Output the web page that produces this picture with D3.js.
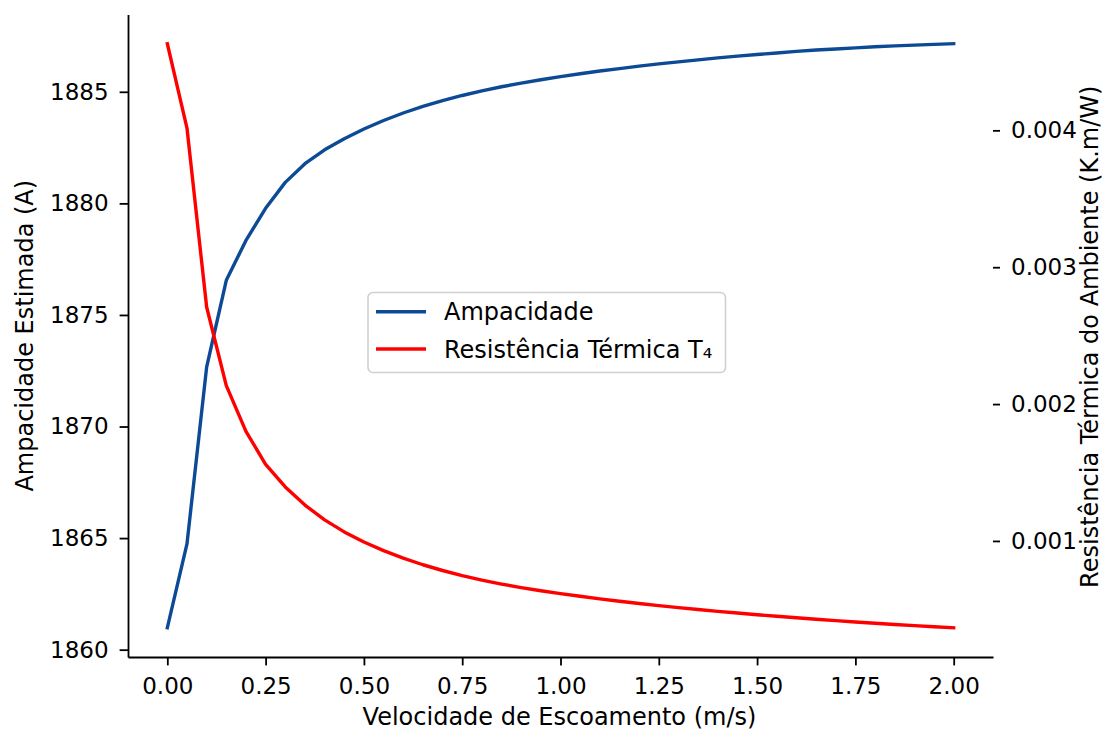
<!DOCTYPE html>
<html>
<head>
<meta charset="utf-8">
<script src="https://cdn.jsdelivr.net/npm/d3@7"></script>
<style>
  html, body { margin: 0; padding: 0; background: #fff; }
  svg { display: block; font-family: "DejaVu Sans", sans-serif; }
</style>
</head>
<body>
<svg id="chart" width="1104" height="731"></svg>
<script>
// ---- data ----
const velocidade = [0.00, 0.05, 0.10, 0.15, 0.20, 0.25, 0.30, 0.35, 0.40, 0.45,
  0.50, 0.55, 0.60, 0.65, 0.70, 0.75, 0.80, 0.85, 0.90, 0.95,
  1.00, 1.05, 1.10, 1.15, 1.20, 1.25, 1.30, 1.35, 1.40, 1.45,
  1.50, 1.55, 1.60, 1.65, 1.70, 1.75, 1.80, 1.85, 1.90, 1.95, 2.00];

const ampacidade = [1860.98, 1864.74, 1872.66, 1876.55, 1878.34, 1879.78, 1880.94, 1881.78, 1882.40, 1882.90,
  1883.335, 1883.715, 1884.05, 1884.345, 1884.605, 1884.835, 1885.04, 1885.225, 1885.39, 1885.54,
  1885.68, 1885.81, 1885.93, 1886.04, 1886.15, 1886.25, 1886.34, 1886.43, 1886.52, 1886.60,
  1886.67, 1886.74, 1886.81, 1886.87, 1886.92, 1886.97, 1887.02, 1887.06, 1887.09, 1887.125, 1887.155];

const resistencia = [0.004633, 0.004017, 0.002709, 0.002135, 0.001800, 0.001560, 0.001395, 0.001262, 0.001154, 0.001066,
  0.000992, 0.000929, 0.000874, 0.000826, 0.000784, 0.000747, 0.000714, 0.000685, 0.000659, 0.000636,
  0.000615, 0.0005955, 0.000577, 0.0005595, 0.000543, 0.0005275, 0.0005128, 0.0004989, 0.0004857, 0.0004731,
  0.000461, 0.0004494, 0.0004383, 0.0004277, 0.0004176, 0.0004079, 0.0003986, 0.0003897, 0.0003812, 0.0003731, 0.0003654];

const xTicks = [0.00, 0.25, 0.50, 0.75, 1.00, 1.25, 1.50, 1.75, 2.00];
const yLeftTicks = [1860, 1865, 1870, 1875, 1880, 1885];
const yRightTicks = [0.001, 0.002, 0.003, 0.004];

const seriesNames = ["Ampacidade", "Resistência Térmica T₄"];
const seriesColors = ["#0c4a95", "#ff0000"];

const xLabel = "Velocidade de Escoamento (m/s)";
const yLeftLabel = "Ampacidade Estimada (A)";
const yRightLabel = "Resistência Térmica do Ambiente (K.m/W)";

// ---- layout ----
const plot = { left: 128, right: 993, top: 14.5, bottom: 657 };
const FS = 23;     // tick labels
const LFS = 24;    // axis labels & legend
const svg = d3.select("#chart");

function padded(ext) {
  const m = (ext[1] - ext[0]) * 0.05;
  return [ext[0] - m, ext[1] + m];
}

const x = d3.scaleLinear().domain(padded(d3.extent(velocidade))).range([plot.left, plot.right]);
const yL = d3.scaleLinear().domain(padded(d3.extent(ampacidade))).range([plot.bottom, plot.top]);
const yR = d3.scaleLinear().domain(padded(d3.extent(resistencia))).range([plot.bottom, plot.top]);

// lines
const ptsA = velocidade.map((v, i) => [v, ampacidade[i]]);
const ptsR = velocidade.map((v, i) => [v, resistencia[i]]);

svg.append("path")
  .attr("d", d3.line().x(d => x(d[0])).y(d => yL(d[1]))(ptsA))
  .attr("fill", "none").attr("stroke", seriesColors[0]).attr("stroke-width", 3.4)
  .attr("stroke-linejoin", "round").attr("stroke-linecap", "square");

svg.append("path")
  .attr("d", d3.line().x(d => x(d[0])).y(d => yR(d[1]))(ptsR))
  .attr("fill", "none").attr("stroke", seriesColors[1]).attr("stroke-width", 3.4)
  .attr("stroke-linejoin", "round").attr("stroke-linecap", "square");

// axes
function styleAxis(g) {
  g.selectAll("text").attr("font-size", FS).attr("fill", "#000").attr("font-family", "DejaVu Sans, sans-serif");
  g.selectAll("line").attr("stroke", "#000").attr("stroke-width", 1.8);
  g.selectAll("path.domain").attr("stroke", "#000").attr("stroke-width", 1.8);
}

const gx = svg.append("g").attr("transform", `translate(0,${plot.bottom})`)
  .call(d3.axisBottom(x).tickValues(xTicks).tickFormat(d3.format(".2f")).tickSize(8.4).tickPadding(12.5).tickSizeOuter(0));
styleAxis(gx);

const gyl = svg.append("g").attr("transform", `translate(${plot.left},0)`)
  .call(d3.axisLeft(yL).tickValues(yLeftTicks).tickFormat(d3.format("d")).tickSize(8.4).tickPadding(11).tickSizeOuter(0));
styleAxis(gyl);

const gyr = svg.append("g").attr("transform", `translate(${plot.right},0)`)
  .call(d3.axisRight(yR).tickValues(yRightTicks).tickFormat(d3.format(".3f")).tickSize(7).tickPadding(11).tickSizeOuter(0));
styleAxis(gyr);
gyr.select("path.domain").remove();

// axis labels
svg.append("text").attr("x", (plot.left + plot.right) / 2 - 1).attr("y", 724.5)
  .attr("text-anchor", "middle").attr("font-size", LFS).attr("fill", "#000").text(xLabel);

svg.append("text").attr("transform", `translate(33,${(plot.top + plot.bottom) / 2}) rotate(-90)`)
  .attr("text-anchor", "middle").attr("font-size", LFS).attr("fill", "#000").text(yLeftLabel);

svg.append("text").attr("transform", `translate(1098,${(plot.top + plot.bottom) / 2 + 1}) rotate(-90)`)
  .attr("text-anchor", "middle").attr("font-size", LFS).attr("fill", "#000").text(yRightLabel);

// legend
const leg = svg.append("g");
leg.append("rect").attr("x", 368).attr("y", 292.5).attr("width", 357.5).attr("height", 80)
  .attr("rx", 5).attr("ry", 5).attr("fill", "rgba(255,255,255,0.8)")
  .attr("stroke", "#d0d0d0").attr("stroke-width", 1.6);
seriesNames.forEach((name, i) => {
  const yy = 311.7 + i * 37.3;
  leg.append("line").attr("x1", 376).attr("x2", 426).attr("y1", yy).attr("y2", yy)
    .attr("stroke", seriesColors[i]).attr("stroke-width", 3.4);
  leg.append("text").attr("x", 444).attr("y", yy + 8.5).attr("font-size", LFS)
    .attr("fill", "#000").text(name);
});
</script>
</body>
</html>
